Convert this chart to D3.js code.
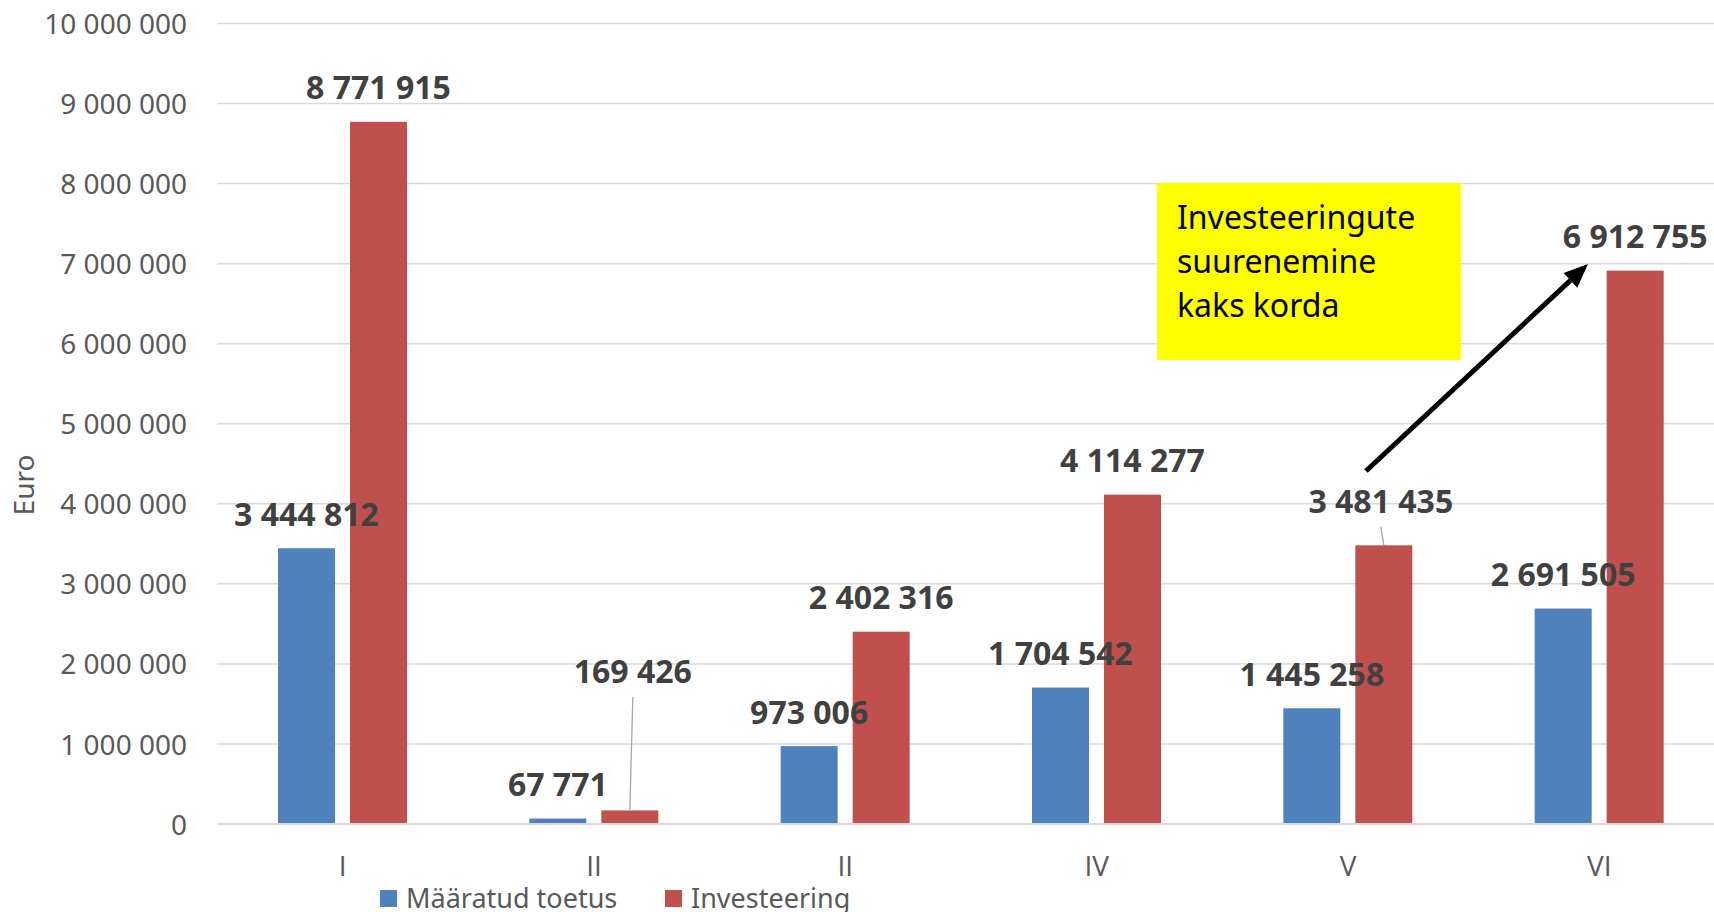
<!DOCTYPE html>
<html>
<head>
<meta charset="utf-8">
<script src="https://cdn.jsdelivr.net/npm/d3@7/dist/d3.min.js"></script>
<style>
  html, body { margin: 0; padding: 0; background: #fff; }
  svg { display: block; }
  text { font-family: "Noto Sans", "Open Sans", sans-serif; }
</style>
</head>
<body>
<svg id="chart" width="1714" height="912"></svg>
<script>
// ---- data ----
const categories = ["I", "II", "II", "IV", "V", "VI"];
const seriesNames = ["Määratud toetus", "Investeering"];
const toetus = [3444812, 67771, 973006, 1704542, 1445258, 2691505];
const investeering = [8771915, 169426, 2402316, 4114277, 3481435, 6912755];
const yTicks = [0, 1000000, 2000000, 3000000, 4000000, 5000000, 6000000, 7000000, 8000000, 9000000, 10000000];
const yMax = 10000000;
const yTitle = "Euro";
const noteLines = ["Investeeringute", "suurenemine", "kaks korda"];

const colors = ["#4F81BD", "#C0504D"];
const series = [toetus, investeering];

const svg = d3.select("#chart");
const W = 1714, H = 912;

const locale = d3.formatLocale({ decimal: ",", thousands: " ", grouping: [3], currency: ["", ""] });
const fmt = locale.format(",d");

const x0 = d3.scaleBand().domain(d3.range(categories.length)).range([217, 1725]).paddingInner(0).paddingOuter(0);
const x1 = d3.scaleBand().domain([0, 1]).range([61, 190]).paddingInner(0.2083).paddingOuter(0);
const y = d3.scaleLinear().domain([0, yMax]).range([824, 23.5]);

// gridlines
svg.append("g").selectAll("line").data(yTicks).join("line")
  .attr("x1", 217).attr("x2", W)
  .attr("y1", d => y(d)).attr("y2", d => y(d))
  .attr("stroke", "#d9d9d9").attr("stroke-width", 1.5);

// y axis labels
const yAxis = d3.axisLeft(y).tickValues(yTicks).tickSize(0).tickPadding(0).tickFormat(fmt);
const gy = svg.append("g").attr("transform", "translate(187,0)").call(yAxis);
gy.select(".domain").remove();
gy.selectAll("text")
  .attr("font-family", '"Noto Sans", sans-serif')
  .attr("font-size", 28).attr("fill", "#595959").attr("dy", "0.36em");

// y title
svg.append("text")
  .attr("transform", "translate(34,485) rotate(-90)")
  .attr("text-anchor", "middle")
  .attr("font-size", 28).attr("fill", "#595959")
  .text(yTitle);

// bars
series.forEach((vals, si) => {
  svg.append("g").selectAll("rect").data(vals).join("rect")
    .attr("x", (d, i) => x0(i) + x1(si))
    .attr("width", x1.bandwidth())
    .attr("y", d => y(d))
    .attr("height", d => y(0) - y(d))
    .attr("fill", colors[si]);
});

// x axis baseline
svg.append("line").attr("x1", 217).attr("x2", W).attr("y1", y(0)).attr("y2", y(0))
  .attr("stroke", "#d9d9d9").attr("stroke-width", 2);

// x axis labels
const xAxis = d3.axisBottom(x0).tickSize(0).tickPadding(0).tickFormat(i => categories[i]);
const gx = svg.append("g").attr("font-family", '"Open Sans", sans-serif').call(xAxis);
gx.attr("font-family", '"Open Sans", sans-serif');
gx.select(".domain").remove();
gx.selectAll("text")
  .attr("font-family", '"Open Sans", sans-serif')
  .style("font-family", '"Open Sans", sans-serif')
  .attr("font-size", 28).attr("fill", "#595959")
  .attr("y", 876).attr("dy", 0);

// value labels (pixel nudges for moved labels)
const nudges = { "1-1": { dx: 3, dy: -105 }, "1-4": { dx: -3, dy: -10 } };
series.forEach((vals, si) => {
  vals.forEach((v, i) => {
    const cx = x0(i) + x1(si) + x1.bandwidth() / 2;
    const top = y(v);
    const n = nudges[si + "-" + i] || { dx: 0, dy: 0 };
    const lx = cx + n.dx, ly = top - 22.5 + n.dy;
    if (n.dy !== 0) {
      svg.append("line")
        .attr("x1", lx).attr("y1", ly + 14)
        .attr("x2", cx).attr("y2", top)
        .attr("stroke", "#a6a6a6").attr("stroke-width", 1.3);
    }
    svg.append("text")
      .attr("x", lx).attr("y", ly)
      .attr("text-anchor", "middle")
      .attr("font-size", 32).attr("font-weight", "bold").attr("fill", "#404040")
      .text(fmt(v));
  });
});

// annotation box
svg.append("rect").attr("x", 1157).attr("y", 183).attr("width", 304).attr("height", 177).attr("fill", "#FFFF00");
svg.append("g").selectAll("text").data(noteLines).join("text")
  .attr("x", 1177).attr("y", (d, i) => 229 + i * 44)
  .attr("font-size", 32).attr("fill", "#000")
  .text(d => d);

// arrow
const ax1 = 1366, ay1 = 471, ax2 = 1588, ay2 = 264;
const ang = Math.atan2(ay2 - ay1, ax2 - ax1);
const hl = 24, hw = 10;
const bx = ax2 - hl * Math.cos(ang), by = ay2 - hl * Math.sin(ang);
svg.append("line").attr("x1", ax1).attr("y1", ay1).attr("x2", bx).attr("y2", by)
  .attr("stroke", "#000").attr("stroke-width", 5);
svg.append("polygon")
  .attr("points", [
    [ax2, ay2],
    [bx + hw * Math.sin(ang), by - hw * Math.cos(ang)],
    [bx - hw * Math.sin(ang), by + hw * Math.cos(ang)]
  ].map(p => p.join(",")).join(" "))
  .attr("fill", "#000");

// legend
const legendX = [380, 665];
seriesNames.forEach((name, si) => {
  svg.append("rect").attr("x", legendX[si]).attr("y", 890).attr("width", 17).attr("height", 17).attr("fill", colors[si]);
  svg.append("text").attr("x", legendX[si] + 26).attr("y", 908)
    .attr("font-size", 27).attr("fill", "#595959").text(name);
});
</script>
</body>
</html>
